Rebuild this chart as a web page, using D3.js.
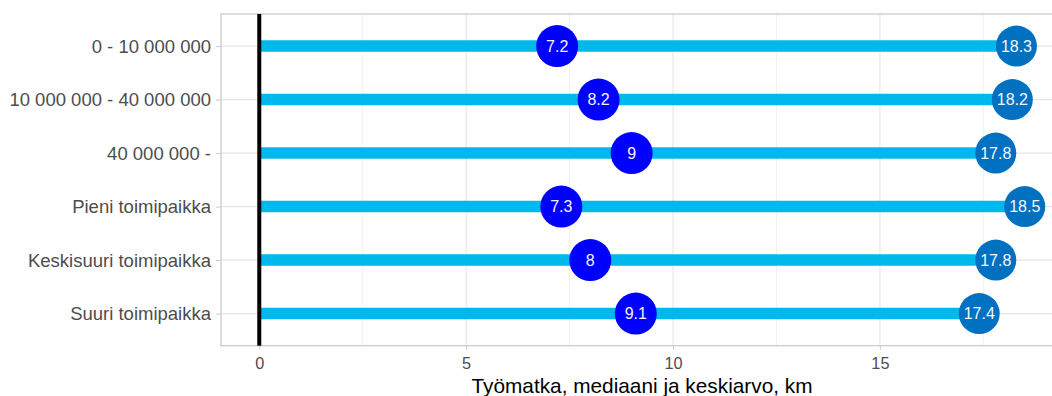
<!DOCTYPE html>
<html>
<head>
<meta charset="utf-8">
<script src="https://cdn.jsdelivr.net/npm/d3@7"></script>
<style>
  html, body { margin: 0; padding: 0; background: #ffffff; }
  svg { display: block; font-family: "Liberation Sans", Arial, sans-serif; }
</style>
</head>
<body>
<svg id="chart" width="1052" height="396"></svg>
<script>
// Commute distance by company turnover and workplace size
const categories = [
  "0 - 10 000 000",
  "10 000 000 - 40 000 000",
  "40 000 000 -",
  "Pieni toimipaikka",
  "Keskisuuri toimipaikka",
  "Suuri toimipaikka"
];
const medianValues = [7.2, 8.2, 9, 7.3, 8, 9.1];
const meanValues = [18.3, 18.2, 17.8, 18.5, 17.8, 17.4];
const xTicks = [0, 5, 10, 15];
const xMinorTicks = [2.5, 7.5, 12.5, 17.5];
const xTitle = "Työmatka, mediaani ja keskiarvo, km";

const svg = d3.select("#chart");
const panel = { left: 221, right: 1063, top: 14, bottom: 345.7 };

// ggplot-style 5% expansion around 0 .. max(mean)
const maxVal = d3.max(meanValues);
const pad = maxVal * 0.05;
const x = d3.scaleLinear()
  .domain([-pad, maxVal + pad])
  .range([panel.left, panel.right]);

const y = d3.scalePoint()
  .domain(categories)
  .range([panel.top, panel.bottom])
  .padding(0.6);

const rows = categories.map((c, i) => ({ cat: c, median: medianValues[i], mean: meanValues[i] }));

const g = svg.append("g");

// grid
g.selectAll("line.minor").data(xMinorTicks).join("line")
  .attr("x1", d => x(d)).attr("x2", d => x(d))
  .attr("y1", panel.top).attr("y2", panel.bottom)
  .attr("stroke", "#f1f1f1").attr("stroke-width", 1);
g.selectAll("line.majorx").data(xTicks).join("line")
  .attr("x1", d => x(d)).attr("x2", d => x(d))
  .attr("y1", panel.top).attr("y2", panel.bottom)
  .attr("stroke", "#e6e6e6").attr("stroke-width", 1.1);
g.selectAll("line.majory").data(categories).join("line")
  .attr("x1", panel.left).attr("x2", panel.right)
  .attr("y1", d => y(d)).attr("y2", d => y(d))
  .attr("stroke", "#e6e6e6").attr("stroke-width", 1.1);

// panel border
g.append("rect")
  .attr("x", panel.left).attr("y", panel.top)
  .attr("width", panel.right - panel.left).attr("height", panel.bottom - panel.top)
  .attr("fill", "none").attr("stroke", "#cfcfcf").attr("stroke-width", 1.4);

// bars from 0 to mean
g.selectAll("line.bar").data(rows).join("line")
  .attr("x1", x(0)).attr("x2", d => x(d.mean))
  .attr("y1", d => y(d.cat)).attr("y2", d => y(d.cat))
  .attr("stroke", "#00b9ec").attr("stroke-width", 11.5);

// zero reference line
g.append("line")
  .attr("x1", x(0)).attr("x2", x(0))
  .attr("y1", panel.top).attr("y2", panel.bottom)
  .attr("stroke", "#000000").attr("stroke-width", 4);

// median points
g.selectAll("circle.median").data(rows).join("circle")
  .attr("cx", d => x(d.median)).attr("cy", d => y(d.cat))
  .attr("r", 21).attr("fill", "#0000ff");
g.selectAll("text.median").data(rows).join("text")
  .attr("x", d => x(d.median)).attr("y", d => y(d.cat))
  .attr("dy", "0.36em").attr("text-anchor", "middle")
  .attr("fill", "#f4f4ff").attr("font-size", 16)
  .text(d => d.median);

// mean points
g.selectAll("circle.mean").data(rows).join("circle")
  .attr("cx", d => x(d.mean)).attr("cy", d => y(d.cat))
  .attr("r", 20.5).attr("fill", "#0070c0");
g.selectAll("text.mean").data(rows).join("text")
  .attr("x", d => x(d.mean)).attr("y", d => y(d.cat))
  .attr("dy", "0.36em").attr("text-anchor", "middle")
  .attr("fill", "#f4f8ff").attr("font-size", 16)
  .text(d => d.mean);

// x axis
const xAxis = d3.axisBottom(x).tickValues(xTicks).tickSize(4).tickPadding(8).tickFormat(d3.format("d"));
const xa = svg.append("g").attr("transform", `translate(0,${panel.bottom})`).call(xAxis);
xa.select(".domain").remove();
xa.selectAll(".tick line").attr("stroke", "#d0d0d0").attr("stroke-width", 1.1);
xa.selectAll(".tick text").attr("fill", "#4d4d4d").attr("font-size", 16.3)
  .attr("font-family", "Liberation Sans, Arial, sans-serif");

// y axis
const yAxis = d3.axisLeft(y).tickSize(5).tickPadding(5);
const ya = svg.append("g").attr("transform", `translate(${panel.left},0)`).call(yAxis);
ya.select(".domain").remove();
ya.selectAll(".tick line").attr("stroke", "#d0d0d0").attr("stroke-width", 1.1);
ya.selectAll(".tick text").attr("fill", "#4d4d4d").attr("font-size", 18.5)
  .attr("font-family", "Liberation Sans, Arial, sans-serif");

// x axis title
svg.append("text")
  .attr("x", (panel.left + panel.right) / 2).attr("y", 393)
  .attr("text-anchor", "middle").attr("fill", "#000000").attr("font-size", 20.8)
  .text(xTitle);
</script>
</body>
</html>
